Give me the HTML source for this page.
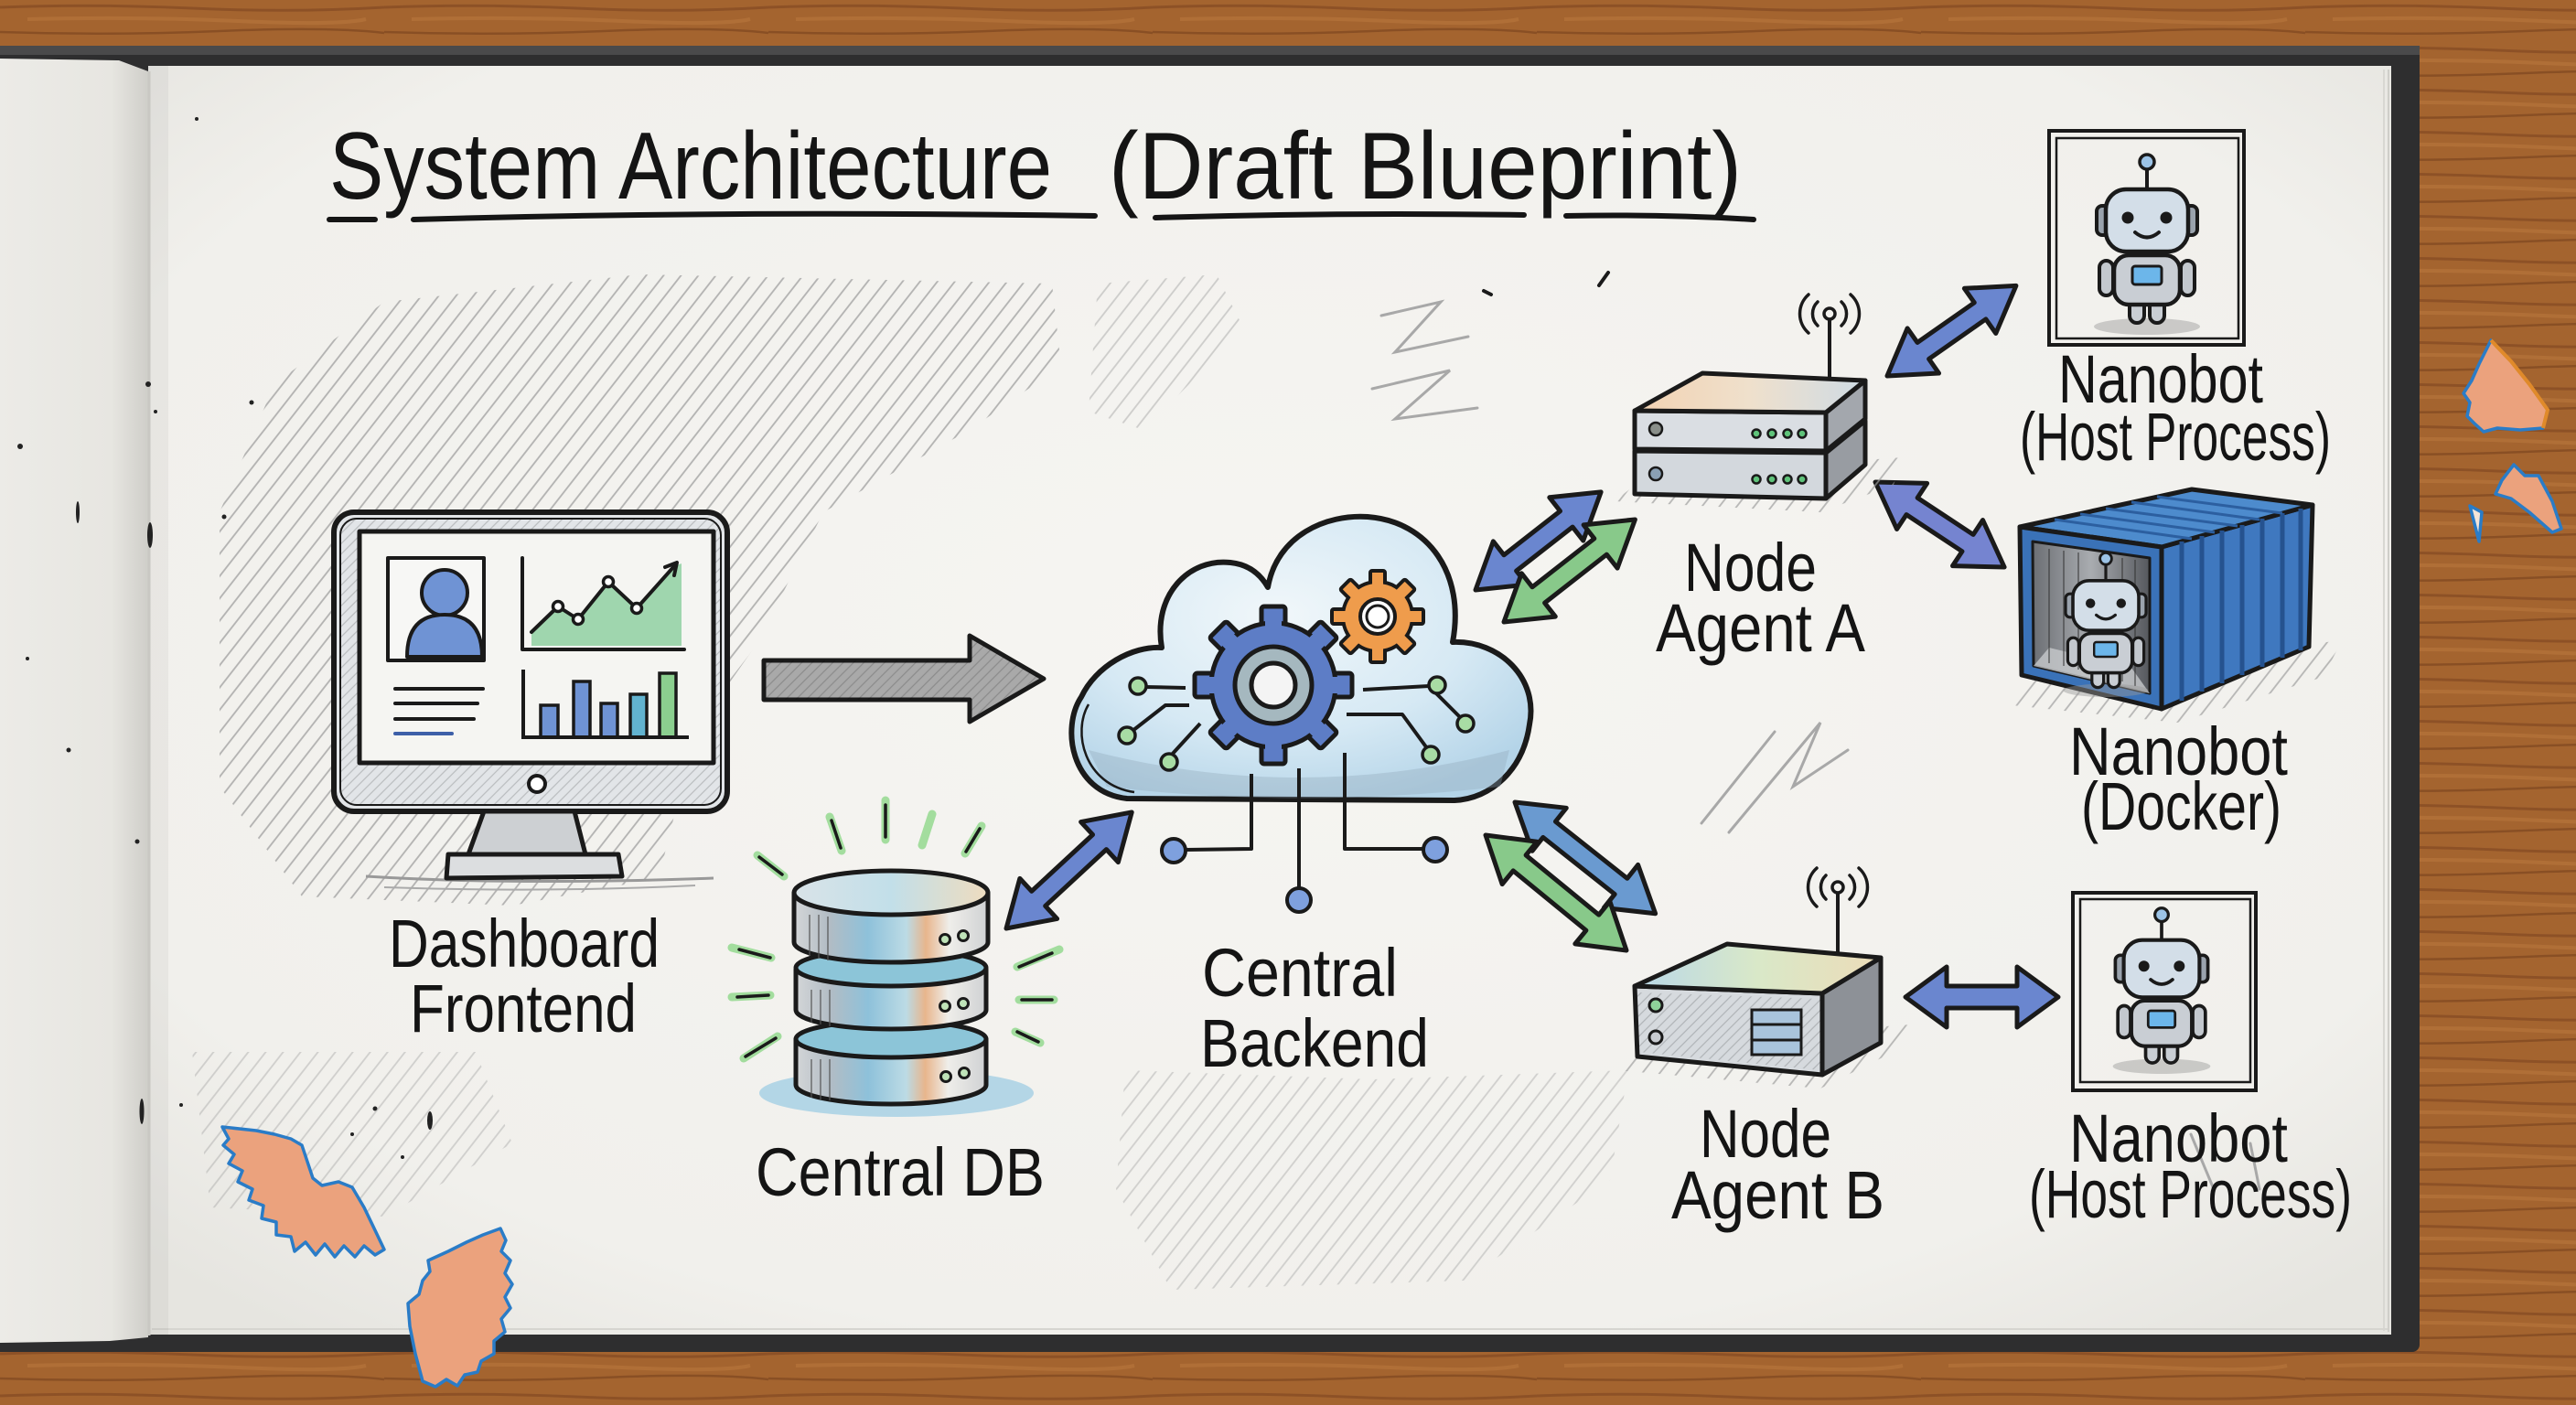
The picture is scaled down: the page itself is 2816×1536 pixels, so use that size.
<!DOCTYPE html>
<html><head><meta charset="utf-8"><style>html,body{margin:0;padding:0;background:#a0602d}svg{display:block}</style></head>
<body>
<svg xmlns="http://www.w3.org/2000/svg" width="2816" height="1536" viewBox="0 0 2816 1536">
<defs>
<pattern id="wood" width="420" height="46" patternUnits="userSpaceOnUse">
<rect width="420" height="46" fill="#a4642f"/>
<path d="M0 8 Q100 4 210 9 T420 8" stroke="#7a421e" stroke-width="3" fill="none" opacity=".55"/>
<path d="M30 21 Q150 18 260 23 T400 21" stroke="#bb7a40" stroke-width="4" fill="none" opacity=".5"/>
<path d="M0 35 Q120 39 240 34 T420 36" stroke="#6d3a19" stroke-width="2.5" fill="none" opacity=".5"/>
</pattern>
<pattern id="ph" width="15" height="15" patternUnits="userSpaceOnUse" patternTransform="rotate(-52)">
<line x1="0" y1="7" x2="15" y2="7" stroke="#9c9c9c" stroke-width="1.8"/>
</pattern>
<pattern id="hd" width="8" height="8" patternUnits="userSpaceOnUse" patternTransform="rotate(-45)">
<line x1="0" y1="4" x2="8" y2="4" stroke="#000" stroke-width="1.2" opacity=".18"/>
</pattern>
<radialGradient id="paperG" cx="0.5" cy="0.45" r="0.7">
<stop offset="0" stop-color="#f6f5f2"/><stop offset="0.8" stop-color="#f1f0ec"/><stop offset="1" stop-color="#e6e5e0"/>
</radialGradient>
<linearGradient id="leftP" x1="0" y1="0" x2="1" y2="0">
<stop offset="0" stop-color="#ecebe7"/><stop offset="0.75" stop-color="#e7e6e1"/><stop offset="1" stop-color="#cfcec9"/>
</linearGradient>
<radialGradient id="cloudG" cx="0.45" cy="0.35" r="0.7">
<stop offset="0" stop-color="#f1f7fa"/><stop offset="0.6" stop-color="#d6e9f4"/><stop offset="1" stop-color="#b4d4e8"/>
</radialGradient>
<linearGradient id="dbS" x1="0" y1="0" x2="1" y2="0">
<stop offset="0" stop-color="#d4d6d8"/><stop offset="0.18" stop-color="#b2bcc4"/><stop offset="0.38" stop-color="#8ec1da"/>
<stop offset="0.58" stop-color="#bcdbe5"/><stop offset="0.68" stop-color="#e8b58c"/><stop offset="0.8" stop-color="#efeeea"/><stop offset="1" stop-color="#cfd1d3"/>
</linearGradient>
<linearGradient id="dbT" x1="0" y1="0" x2="1" y2="0">
<stop offset="0" stop-color="#d9e3e8"/><stop offset="0.5" stop-color="#c2dfe9"/><stop offset="1" stop-color="#eedcbf"/>
</linearGradient>
<linearGradient id="dockI" x1="0" y1="0" x2="1" y2="0">
<stop offset="0" stop-color="#6c6f74"/><stop offset="0.5" stop-color="#a9acb0"/><stop offset="1" stop-color="#55585d"/>
</linearGradient>
<linearGradient id="rtTop" x1="0" y1="0" x2="1" y2="0">
<stop offset="0" stop-color="#f2d2b2"/><stop offset="0.5" stop-color="#efe0cc"/><stop offset="1" stop-color="#cfdbe4"/>
</linearGradient>
<linearGradient id="rtTopB" x1="0" y1="0" x2="1" y2="0">
<stop offset="0" stop-color="#b9d8e8"/><stop offset="0.5" stop-color="#d9e8c8"/><stop offset="1" stop-color="#ecdcb8"/>
</linearGradient>
<g id="robot">
<ellipse cx="0" cy="116" rx="58" ry="9" fill="#9a9a9a" opacity=".45"/>
<rect x="-19" y="84" width="16" height="28" rx="8" fill="#c9ced4" stroke="#1a1a1a" stroke-width="4"/>
<rect x="3" y="84" width="16" height="28" rx="8" fill="#c9ced4" stroke="#1a1a1a" stroke-width="4"/>
<rect x="-52" y="44" width="15" height="38" rx="7.5" fill="#c3c8ce" stroke="#1a1a1a" stroke-width="4"/>
<rect x="37" y="44" width="15" height="38" rx="7.5" fill="#c3c8ce" stroke="#1a1a1a" stroke-width="4"/>
<rect x="-36" y="38" width="72" height="54" rx="16" fill="#c9ced4" stroke="#1a1a1a" stroke-width="4.5"/>
<rect x="-16" y="50" width="32" height="20" rx="3" fill="#6cb6ea" stroke="#1a1a1a" stroke-width="3"/>
<line x1="0" y1="-34" x2="0" y2="-58" stroke="#1a1a1a" stroke-width="4"/>
<circle cx="0" cy="-64" r="8" fill="#9cc3e6" stroke="#1a1a1a" stroke-width="3.5"/>
<rect x="-55" y="-16" width="14" height="32" rx="6" fill="#9aa3ad" stroke="#1a1a1a" stroke-width="4"/>
<rect x="41" y="-16" width="14" height="32" rx="6" fill="#9aa3ad" stroke="#1a1a1a" stroke-width="4"/>
<rect x="-45" y="-34" width="90" height="68" rx="22" fill="#d3dee8" stroke="#1a1a1a" stroke-width="4.5"/>
<circle cx="-21" cy="-3" r="6.5" fill="#1a1a1a"/><circle cx="21" cy="-3" r="6.5" fill="#1a1a1a"/>
<path d="M-13 13 Q0 24 13 13" fill="none" stroke="#1a1a1a" stroke-width="4" stroke-linecap="round"/>
</g>
</defs>

<rect width="2816" height="1536" fill="url(#wood)"/>

<rect x="-10" y="50" width="2655" height="1428" rx="8" fill="#2e2e2f"/>
<rect x="-10" y="50" width="2655" height="10" fill="#4a4a4b"/>
<path d="M0 64 L130 66 L162 78 L162 1462 L120 1466 L0 1468 Z" fill="url(#leftP)"/>
<rect x="162" y="72" width="2452" height="1387" fill="url(#paperG)"/>
<line x1="2606" y1="76" x2="2606" y2="1455" stroke="#d8d7d2" stroke-width="2"/>
<line x1="2611" y1="76" x2="2611" y2="1456" stroke="#cfcec9" stroke-width="2"/>
<line x1="166" y1="1453" x2="2610" y2="1453" stroke="#d6d5d0" stroke-width="2"/>
<rect x="162" y="72" width="22" height="1387" fill="#000" opacity=".04"/>
<line x1="163" y1="78" x2="163" y2="1460" stroke="#c9c8c3" stroke-width="3"/>

<g fill="#222">
<circle cx="162" cy="420" r="3"/><circle cx="170" cy="450" r="2"/><circle cx="22" cy="488" r="3"/>
<ellipse cx="164" cy="585" rx="3" ry="14"/><circle cx="245" cy="565" r="2.5"/><ellipse cx="85" cy="560" rx="2" ry="12"/>
<circle cx="30" cy="720" r="2"/><circle cx="75" cy="820" r="2.5"/><circle cx="150" cy="920" r="2.5"/>
<ellipse cx="155" cy="1215" rx="2.5" ry="14"/><circle cx="198" cy="1208" r="2"/><circle cx="410" cy="1212" r="2.5"/>
<ellipse cx="470" cy="1225" rx="3" ry="10"/><circle cx="440" cy="1265" r="2"/><circle cx="385" cy="1240" r="2"/>
<circle cx="215" cy="130" r="2"/><circle cx="275" cy="440" r="2.5"/>
</g>

<polygon points="240,560 300,420 420,330 700,300 1150,310 1160,400 1060,470 900,560 830,700 760,800 720,960 560,990 330,980 240,860" fill="url(#ph)" opacity=".75"/>
<polygon points="1200,310 1330,300 1360,360 1250,470 1190,450" fill="url(#ph)" opacity=".45"/>
<polygon points="1230,1170 1500,1180 1780,1170 1760,1290 1600,1400 1280,1410 1220,1300" fill="url(#ph)" opacity=".4"/>
<polygon points="210,1150 520,1150 560,1250 420,1330 230,1320" fill="url(#ph)" opacity=".4"/>
<g fill="none" stroke="#a8a8a8" stroke-width="3" stroke-linecap="round">
<path d="M1510 345 L1575 330 L1525 385 L1605 368"/>
<path d="M1500 425 L1585 405 L1525 458 L1615 446"/>
<path d="M1860 900 L1940 800 M1890 910 L1990 790 L1960 860 L2020 820"/>
<path d="M2395 1240 L2420 1300 M2460 1250 L2470 1300"/>
</g>
<g stroke="#1a1a1a" stroke-width="4" stroke-linecap="round">
<line x1="1622" y1="318" x2="1630" y2="322"/><line x1="1748" y1="312" x2="1758" y2="298"/>
</g>

<g font-family="Liberation Sans, sans-serif" fill="#141414">
<text x="360" y="217" font-size="104" textLength="790" lengthAdjust="spacingAndGlyphs">System Architecture</text>
<text x="1212" y="217" font-size="104" textLength="692" lengthAdjust="spacingAndGlyphs">(Draft Blueprint)</text>
</g>
<g stroke="#151515" stroke-width="6" stroke-linecap="round" fill="none">
<path d="M360 240 L410 240"/>
<path d="M452 240 Q800 230 1197 236"/>
<path d="M1263 238 Q1460 232 1666 235"/>
<path d="M1712 236 Q1820 234 1917 240"/>
</g>

<g stroke="#1a1a1a" stroke-linejoin="round">
<path d="M400 958 Q560 968 780 960" stroke="#999" stroke-width="3" fill="none"/>
<path d="M420 970 Q600 976 760 968" stroke="#aaa" stroke-width="2" fill="none"/>
<rect x="365" y="560" width="430" height="327" rx="22" fill="#e2e5e8" stroke-width="6"/>
<rect x="372" y="567" width="416" height="313" rx="18" fill="url(#hd)" stroke-width="2"/>
<rect x="393" y="581" width="387" height="253" fill="#f5f5f2" stroke-width="5"/>
<circle cx="587" cy="857" r="9" fill="#fff" stroke-width="4"/>
<polygon points="529,887 628,887 640,934 512,934" fill="#cdd0d3" stroke-width="5"/>
<polygon points="490,934 676,934 680,958 488,960" fill="#dcdee0" stroke-width="5"/>
<rect x="424" y="610" width="105" height="112" fill="#f7f7f5" stroke-width="4"/>
<circle cx="486" cy="648" r="25" fill="#6f93d4" stroke-width="4"/>
<path d="M445 718 Q445 672 486 672 Q527 672 527 718 Z" fill="#6f93d4" stroke-width="4"/>
</g>
<g stroke="#1a1a1a" stroke-width="4" stroke-linecap="round">
<line x1="432" y1="753" x2="528" y2="753"/><line x1="432" y1="769" x2="522" y2="769"/>
<line x1="432" y1="786" x2="518" y2="786"/><line x1="432" y1="802" x2="494" y2="802" stroke="#3d5fa8"/>
</g>
<polygon points="581,691 610,663 632,677 665,636 696,665 735,620 745,616 745,706 581,706" fill="#8fd0a2" opacity=".85"/>
<g stroke="#1a1a1a" stroke-width="4" fill="none" stroke-linecap="round" stroke-linejoin="round">
<polyline points="571,610 571,710 748,710"/>
<polyline points="581,691 610,663 632,677 665,636 696,665 737,619"/>
<path d="M727 620 L740 615 L737 629"/>
</g>
<g fill="#fff" stroke="#1a1a1a" stroke-width="3.5">
<circle cx="610" cy="663" r="5.5"/><circle cx="632" cy="677" r="5.5"/><circle cx="665" cy="636" r="5.5"/><circle cx="696" cy="665" r="5.5"/>
</g>
<g stroke="#1a1a1a" stroke-width="3.5">
<rect x="591" y="771" width="19" height="35" fill="#6f93d4"/>
<rect x="627" y="745" width="18" height="61" fill="#6f93d4"/>
<rect x="657" y="769" width="18" height="37" fill="#6f93d4"/>
<rect x="689" y="759" width="18" height="47" fill="#62b3d0"/>
<rect x="721" y="736" width="18" height="70" fill="#8bcf8f"/>
</g>
<polyline points="572,732 572,806 753,806" stroke="#1a1a1a" stroke-width="4" fill="none"/>

<polygon points="835,722 1060,722 1060,695 1141,742 1060,789 1060,765 835,765" fill="#a9a9a9" stroke="#1a1a1a" stroke-width="5" stroke-linejoin="round"/>
<polygon points="835,722 1060,722 1060,695 1141,742 1060,789 1060,765 835,765" fill="url(#hd)"/>

<path d="M1232 873 C1170 866 1160 795 1182 762 C1198 728 1238 706 1270 708 C1260 650 1300 610 1345 615 C1365 617 1378 628 1386 642 C1396 585 1450 562 1495 565 C1562 570 1602 628 1588 702 C1640 700 1682 742 1672 792 C1665 842 1630 873 1590 875 Z" fill="url(#cloudG)" stroke="#1a1a1a" stroke-width="6" stroke-linejoin="round"/>
<path d="M1190 820 Q1420 880 1650 820 L1640 860 Q1420 885 1210 860 Z" fill="#8fa7b8" opacity=".35"/>
<path d="M1240 866 C1185 858 1172 800 1190 770" fill="none" stroke="#1a1a1a" stroke-width="2.5"/>
<g stroke="#1a1a1a" stroke-width="4" fill="none" stroke-linejoin="round">
<polyline points="1252,751 1296,752"/>
<polyline points="1238,799 1274,771 1300,771"/>
<polyline points="1280,826 1312,791"/>
<polyline points="1490,754 1562,750 1598,786"/>
<polyline points="1472,781 1533,781 1560,818"/>
<polyline points="1368,846 1368,928 1296,929"/>
<polyline points="1420,840 1420,970"/>
<polyline points="1470,823 1470,928 1555,928"/>
</g>
<g fill="#a8dca4" stroke="#1a1a1a" stroke-width="3.5">
<circle cx="1244" cy="750" r="9"/><circle cx="1232" cy="804" r="9"/><circle cx="1278" cy="833" r="9"/>
<circle cx="1571" cy="749" r="9"/><circle cx="1602" cy="791" r="9"/><circle cx="1564" cy="825" r="9"/>
</g>
<g fill="#7ea0de" stroke="#1a1a1a" stroke-width="4">
<circle cx="1283" cy="930" r="13"/><circle cx="1420" cy="984" r="13"/><circle cx="1569" cy="929" r="13"/>
</g>
<g fill="#5d7dc6" stroke="#1a1a1a" stroke-width="5" stroke-linejoin="round">
<rect x="1379" y="663" width="26" height="32" rx="3"/>
<rect x="1379" y="663" width="26" height="32" rx="3" transform="rotate(45 1392 749)"/>
<rect x="1379" y="663" width="26" height="32" rx="3" transform="rotate(90 1392 749)"/>
<rect x="1379" y="663" width="26" height="32" rx="3" transform="rotate(135 1392 749)"/>
<rect x="1379" y="663" width="26" height="32" rx="3" transform="rotate(180 1392 749)"/>
<rect x="1379" y="663" width="26" height="32" rx="3" transform="rotate(225 1392 749)"/>
<rect x="1379" y="663" width="26" height="32" rx="3" transform="rotate(270 1392 749)"/>
<rect x="1379" y="663" width="26" height="32" rx="3" transform="rotate(315 1392 749)"/>
<circle cx="1392" cy="749" r="68"/>
</g>
<g fill="#5d7dc6">
<rect x="1383" y="668" width="18" height="32"/>
<rect x="1383" y="668" width="18" height="32" transform="rotate(45 1392 749)"/>
<rect x="1383" y="668" width="18" height="32" transform="rotate(90 1392 749)"/>
<rect x="1383" y="668" width="18" height="32" transform="rotate(135 1392 749)"/>
<rect x="1383" y="668" width="18" height="32" transform="rotate(180 1392 749)"/>
<rect x="1383" y="668" width="18" height="32" transform="rotate(225 1392 749)"/>
<rect x="1383" y="668" width="18" height="32" transform="rotate(270 1392 749)"/>
<rect x="1383" y="668" width="18" height="32" transform="rotate(315 1392 749)"/>
</g>
<circle cx="1392" cy="749" r="42" fill="#a5b8bf" stroke="#1a1a1a" stroke-width="5"/>
<circle cx="1392" cy="749" r="24" fill="#f4f4f4" stroke="#1a1a1a" stroke-width="5"/>
<g fill="#ef9c4c" stroke="#1a1a1a" stroke-width="4" stroke-linejoin="round">
<rect x="1498" y="624" width="16" height="22" rx="2"/>
<rect x="1498" y="624" width="16" height="22" rx="2" transform="rotate(45 1506 674)"/>
<rect x="1498" y="624" width="16" height="22" rx="2" transform="rotate(90 1506 674)"/>
<rect x="1498" y="624" width="16" height="22" rx="2" transform="rotate(135 1506 674)"/>
<rect x="1498" y="624" width="16" height="22" rx="2" transform="rotate(180 1506 674)"/>
<rect x="1498" y="624" width="16" height="22" rx="2" transform="rotate(225 1506 674)"/>
<rect x="1498" y="624" width="16" height="22" rx="2" transform="rotate(270 1506 674)"/>
<rect x="1498" y="624" width="16" height="22" rx="2" transform="rotate(315 1506 674)"/>
<circle cx="1506" cy="674" r="38"/>
</g>
<g fill="#ef9c4c">
<rect x="1500" y="627" width="12" height="22"/>
<rect x="1500" y="627" width="12" height="22" transform="rotate(45 1506 674)"/>
<rect x="1500" y="627" width="12" height="22" transform="rotate(90 1506 674)"/>
<rect x="1500" y="627" width="12" height="22" transform="rotate(135 1506 674)"/>
<rect x="1500" y="627" width="12" height="22" transform="rotate(180 1506 674)"/>
<rect x="1500" y="627" width="12" height="22" transform="rotate(225 1506 674)"/>
<rect x="1500" y="627" width="12" height="22" transform="rotate(270 1506 674)"/>
<rect x="1500" y="627" width="12" height="22" transform="rotate(315 1506 674)"/>
</g>
<circle cx="1506" cy="674" r="19" fill="#fff" stroke="#1a1a1a" stroke-width="4"/>
<circle cx="1506" cy="674" r="12" fill="none" stroke="#1a1a1a" stroke-width="3"/>

<ellipse cx="980" cy="1195" rx="150" ry="26" fill="#7fc0e0" opacity=".55"/>
<g stroke="#1a1a1a" stroke-width="5" stroke-linejoin="round">
<path d="M870 1136 L870 1186 A104 21 0 0 0 1078 1186 L1078 1136 Z" fill="url(#dbS)"/>
<ellipse cx="974" cy="1136" rx="104" ry="20" fill="#8cc5d8"/>
<path d="M870 1060 L870 1104 A104 21 0 0 0 1078 1104 L1078 1060 Z" fill="url(#dbS)"/>
<ellipse cx="974" cy="1058" rx="104" ry="20" fill="#8cc5d8"/>
<path d="M868 976 L868 1030 A106 22 0 0 0 1080 1030 L1080 976 Z" fill="url(#dbS)"/>
<ellipse cx="974" cy="976" rx="106" ry="24" fill="url(#dbT)"/>
</g>
<g stroke="#555" stroke-width="2" opacity=".6">
<line x1="885" y1="1000" x2="885" y2="1045"/><line x1="895" y1="1000" x2="895" y2="1048"/><line x1="905" y1="1002" x2="905" y2="1050"/>
<line x1="887" y1="1082" x2="887" y2="1118"/><line x1="897" y1="1082" x2="897" y2="1120"/><line x1="907" y1="1082" x2="907" y2="1122"/>
<line x1="887" y1="1158" x2="887" y2="1200"/><line x1="897" y1="1158" x2="897" y2="1202"/><line x1="907" y1="1158" x2="907" y2="1203"/>
</g>
<g fill="#bfe3b8" stroke="#1a1a1a" stroke-width="3">
<circle cx="1033" cy="1027" r="5.5"/><circle cx="1053" cy="1023" r="5.5"/>
<circle cx="1033" cy="1100" r="5.5"/><circle cx="1053" cy="1097" r="5.5"/>
<circle cx="1034" cy="1177" r="5.5"/><circle cx="1054" cy="1173" r="5.5"/>
</g>
<g stroke-linecap="round">
<g stroke="#8fd88a" stroke-width="9" opacity=".8">
<line x1="907" y1="893" x2="920" y2="930"/><line x1="968" y1="875" x2="968" y2="918"/><line x1="1019" y1="890" x2="1008" y2="924"/>
<line x1="1073" y1="903" x2="1055" y2="933"/><line x1="828" y1="935" x2="857" y2="958"/><line x1="800" y1="1036" x2="843" y2="1047"/>
<line x1="800" y1="1090" x2="842" y2="1088"/><line x1="813" y1="1157" x2="850" y2="1133"/><line x1="1112" y1="1057" x2="1158" y2="1038"/>
<line x1="1114" y1="1093" x2="1152" y2="1093"/><line x1="1110" y1="1128" x2="1137" y2="1140"/>
</g>
<g stroke="#1a1a1a" stroke-width="3.5">
<line x1="909" y1="897" x2="919" y2="927"/><line x1="968" y1="880" x2="968" y2="915"/>
<line x1="1071" y1="906" x2="1056" y2="931"/><line x1="830" y1="937" x2="855" y2="956"/><line x1="808" y1="1038" x2="842" y2="1047"/>
<line x1="806" y1="1090" x2="840" y2="1088"/><line x1="815" y1="1155" x2="848" y2="1135"/><line x1="1114" y1="1057" x2="1150" y2="1042"/>
<line x1="1117" y1="1093" x2="1150" y2="1093"/><line x1="1112" y1="1128" x2="1135" y2="1139"/>
</g>
</g>

<g stroke="#1a1a1a" stroke-width="5" stroke-linejoin="round">
<polygon transform="translate(1100,1015) rotate(-42.8)" points="0,0 48,-30 48,-11 139,-11 139,-30 187,0 139,30 139,11 48,11 48,30" fill="#6a86cf"/>
<polygon transform="translate(1613,645) rotate(-38)" points="0,0 48,-30 48,-11 126,-11 126,-30 174,0 126,30 126,11 48,11 48,30" fill="#6a86cf"/>
<polygon transform="translate(1644,680) rotate(-38)" points="0,0 48,-30 48,-11 134,-11 134,-30 182,0 134,30 134,11 48,11 48,30" fill="#88c98a"/>
<polygon transform="translate(1656,877) rotate(38.4)" points="0,0 48,-30 48,-11 148,-11 148,-30 196,0 148,30 148,11 48,11 48,30" fill="#6a9ad0"/>
<polygon transform="translate(1624,913) rotate(39.3)" points="0,0 48,-30 48,-11 151,-11 151,-30 199,0 151,30 151,11 48,11 48,30" fill="#88c98a"/>
<polygon transform="translate(2063,411) rotate(-35)" points="0,0 48,-30 48,-11 124,-11 124,-30 172,0 124,30 124,11 48,11 48,30" fill="#6a86cf"/>
<polygon transform="translate(2050,527) rotate(33.4)" points="0,0 48,-30 48,-11 121,-11 121,-30 169,0 121,30 121,11 48,11 48,30" fill="#7584d0"/>
<polygon transform="translate(2083,1090)" points="0,0 45,-33 45,-12 122,-12 122,-33 167,0 122,33 122,12 45,12 45,33" fill="#6a86cf"/>
</g>

<polygon points="1765,548 1800,520 2080,500 2070,530 1990,560" fill="url(#ph)" opacity=".7"/>
<g stroke="#1a1a1a" stroke-width="5" stroke-linejoin="round">
<line x1="2000" y1="350" x2="2000" y2="414" stroke-width="4"/>
<polygon points="1787,493 1996,495 1996,545 1787,540" fill="#d3d8dd"/>
<polygon points="1996,495 2039,460 2039,508 1996,545" fill="#989ca2"/>
<polygon points="1787,449 1996,451 1996,493 1787,491" fill="#dadee3"/>
<polygon points="1996,451 2039,416 2039,458 1996,493" fill="#a3a7ad"/>
<polygon points="1787,449 1861,408 2039,416 1996,451" fill="url(#rtTop)"/>
</g>
<circle cx="2000" cy="343" r="6" fill="none" stroke="#1a1a1a" stroke-width="3.5"/>
<g fill="none" stroke="#1a1a1a" stroke-width="3.5" stroke-linecap="round">
<path d="M1987 330 A18 18 0 0 0 1987 356"/><path d="M1977 322 A28 28 0 0 0 1977 364"/>
<path d="M2013 330 A18 18 0 0 1 2013 356"/><path d="M2023 322 A28 28 0 0 1 2023 364"/>
</g>
<g stroke="#1a1a1a" stroke-width="2.5">
<circle cx="1810" cy="469" r="7" fill="#8a8f8a"/><circle cx="1810" cy="518" r="7" fill="#8aa0b5"/>
<g fill="#5fc37a"><circle cx="1920" cy="474" r="4.5"/><circle cx="1937" cy="474" r="4.5"/><circle cx="1954" cy="474" r="4.5"/><circle cx="1970" cy="474" r="4.5"/>
<circle cx="1920" cy="524" r="4.5"/><circle cx="1937" cy="524" r="4.5"/><circle cx="1954" cy="524" r="4.5"/><circle cx="1970" cy="524" r="4.5"/></g>
</g>

<polygon points="1768,1170 1800,1140 2090,1120 2070,1150 1990,1190" fill="url(#ph)" opacity=".7"/>
<g stroke="#1a1a1a" stroke-width="5" stroke-linejoin="round">
<line x1="2009" y1="976" x2="2009" y2="1045" stroke-width="4"/>
<polygon points="1787,1078 1992,1086 1992,1175 1790,1155" fill="#d6dade"/>
<polygon points="1992,1086 2056,1047 2056,1140 1992,1175" fill="#8d9197"/>
<polygon points="1787,1078 1888,1032 2056,1047 1992,1086" fill="url(#rtTopB)"/>
</g>
<polygon points="1790,1085 1990,1092 1990,1170 1792,1150" fill="url(#hd)"/>
<circle cx="2009" cy="970" r="6" fill="none" stroke="#1a1a1a" stroke-width="3.5"/>
<g fill="none" stroke="#1a1a1a" stroke-width="3.5" stroke-linecap="round">
<path d="M1996 957 A18 18 0 0 0 1996 983"/><path d="M1986 949 A28 28 0 0 0 1986 991"/>
<path d="M2022 957 A18 18 0 0 1 2022 983"/><path d="M2032 949 A28 28 0 0 1 2032 991"/>
</g>
<g stroke="#1a1a1a" stroke-width="3">
<circle cx="1810" cy="1099" r="7" fill="#8fd39a"/><circle cx="1810" cy="1134" r="7" fill="#c8cbd0"/>
<rect x="1915" y="1104" width="54" height="49" fill="#a9c4dc"/>
<line x1="1915" y1="1120" x2="1969" y2="1120"/><line x1="1915" y1="1137" x2="1969" y2="1137"/>
</g>

<g fill="none" stroke="#1a1a1a">
<rect x="2240" y="143" width="213" height="234" stroke-width="4"/>
<rect x="2248" y="151" width="199" height="219" stroke-width="2.5"/>
</g>
<use href="#robot" transform="translate(2347,241)"/>

<polygon points="2190,770 2230,740 2560,700 2540,740 2380,790" fill="url(#ph)" opacity=".7"/>
<g stroke="#1a1a1a" stroke-width="5" stroke-linejoin="round">
<polygon points="2363,598 2528,552 2524,707 2363,775" fill="#3f78bf"/>
<polygon points="2208,576 2396,535 2528,552 2363,598" fill="#4d8bcd"/>
<polygon points="2208,576 2363,598 2363,775 2210,738" fill="#3a72b8"/>
<polygon points="2222,592 2350,610 2350,758 2223,728" fill="url(#dockI)" stroke-width="3"/>
</g>
<polygon points="2223,728 2350,758 2330,730 2240,708" fill="#c7c9cc" opacity=".8"/>
<g stroke="#333" stroke-width="2" opacity=".5">
<line x1="2240" y1="600" x2="2240" y2="725"/><line x1="2256" y1="602" x2="2256" y2="728"/><line x1="2272" y1="604" x2="2272" y2="732"/>
<line x1="2320" y1="610" x2="2320" y2="745"/><line x1="2334" y1="612" x2="2334" y2="750"/>
</g>
<g stroke="#25528f" stroke-width="5">
<line x1="2385" y1="592" x2="2385" y2="766"/><line x1="2407" y1="586" x2="2407" y2="756"/>
<line x1="2429" y1="580" x2="2429" y2="747"/><line x1="2451" y1="574" x2="2451" y2="738"/>
<line x1="2473" y1="567" x2="2473" y2="729"/><line x1="2495" y1="561" x2="2495" y2="719"/>
<line x1="2515" y1="556" x2="2515" y2="711"/>
</g>
<g stroke="#2c5fa0" stroke-width="3">
<line x1="2246" y1="568" x2="2396" y2="589"/><line x1="2274" y1="562" x2="2421" y2="582"/>
<line x1="2302" y1="556" x2="2446" y2="575"/><line x1="2330" y1="549" x2="2470" y2="568"/>
<line x1="2358" y1="543" x2="2495" y2="561"/>
</g>
<use href="#robot" transform="translate(2302,662) scale(0.8)"/>

<g fill="none" stroke="#1a1a1a">
<rect x="2266" y="976" width="200" height="216" stroke-width="4"/>
<rect x="2274" y="983" width="186" height="200" stroke-width="2.5"/>
</g>
<use href="#robot" transform="translate(2363,1059) scale(0.92)"/>

<g font-family="Liberation Sans, sans-serif" fill="#141414" font-size="74">
<text x="425" y="1057" textLength="296" lengthAdjust="spacingAndGlyphs">Dashboard</text>
<text x="448" y="1128" textLength="248" lengthAdjust="spacingAndGlyphs">Frontend</text>
<text x="826" y="1307" textLength="316" lengthAdjust="spacingAndGlyphs">Central DB</text>
<text x="1314" y="1089" textLength="214" lengthAdjust="spacingAndGlyphs">Central</text>
<text x="1312" y="1166" textLength="250" lengthAdjust="spacingAndGlyphs">Backend</text>
<text x="1841" y="646" textLength="145" lengthAdjust="spacingAndGlyphs">Node</text>
<text x="1810" y="712" textLength="229" lengthAdjust="spacingAndGlyphs">Agent A</text>
<text x="2250" y="440" textLength="224" lengthAdjust="spacingAndGlyphs">Nanobot</text>
<text x="2208" y="503" textLength="340" lengthAdjust="spacingAndGlyphs">(Host Process)</text>
<text x="2262" y="847" textLength="239" lengthAdjust="spacingAndGlyphs">Nanobot</text>
<text x="2275" y="907" textLength="219" lengthAdjust="spacingAndGlyphs">(Docker)</text>
<text x="1858" y="1265" textLength="144" lengthAdjust="spacingAndGlyphs">Node</text>
<text x="1827" y="1332" textLength="233" lengthAdjust="spacingAndGlyphs">Agent B</text>
<text x="2262" y="1270" textLength="239" lengthAdjust="spacingAndGlyphs">Nanobot</text>
<text x="2218" y="1331" textLength="353" lengthAdjust="spacingAndGlyphs">(Host Process)</text>
</g>

<g stroke="#2a7cc7" stroke-width="3.5" stroke-linejoin="round">
<path d="M243 1232 L250 1245 L244 1252 L256 1262 L250 1272 L265 1280 L260 1292 L276 1300 L272 1312 L288 1318 L286 1332 L302 1336 L302 1350 L318 1352 L322 1368 L334 1358 L345 1372 L355 1360 L366 1374 L376 1362 L388 1374 L398 1362 L410 1372 L420 1366 L410 1345 L398 1320 L385 1298 L370 1292 L352 1296 L342 1288 L336 1270 L330 1252 L318 1245 L300 1240 L280 1236 Z" fill="#eba27d"/>
<path d="M547 1343 L553 1356 L548 1368 L558 1378 L552 1392 L560 1404 L552 1418 L558 1430 L548 1442 L552 1456 L540 1466 L540 1480 L526 1488 L522 1500 L508 1503 L500 1515 L488 1508 L476 1516 L462 1510 L454 1480 L448 1450 L446 1425 L458 1415 L462 1400 L470 1390 L468 1378 L490 1368 L510 1358 L528 1350 Z" fill="#eba27d"/>
<path d="M2723 372 L2745 395 L2765 420 L2785 448 L2780 468 L2755 470 L2730 468 L2715 472 L2705 463 L2697 455 L2700 440 L2693 430 L2702 416 L2710 398 Z" fill="#eba27d"/>
<path d="M2748 508 L2760 520 L2775 520 L2790 548 L2800 578 L2790 582 L2765 560 L2745 545 L2728 540 L2735 525 Z" fill="#eba27d"/>
<path d="M2700 553 L2713 560 L2710 592 Z" fill="#f4e4d8"/>
</g>
<path d="M2723 372 L2745 395 L2765 420 L2785 448 L2780 468" fill="none" stroke="#e08a2a" stroke-width="4"/>
</svg>
</body></html>
